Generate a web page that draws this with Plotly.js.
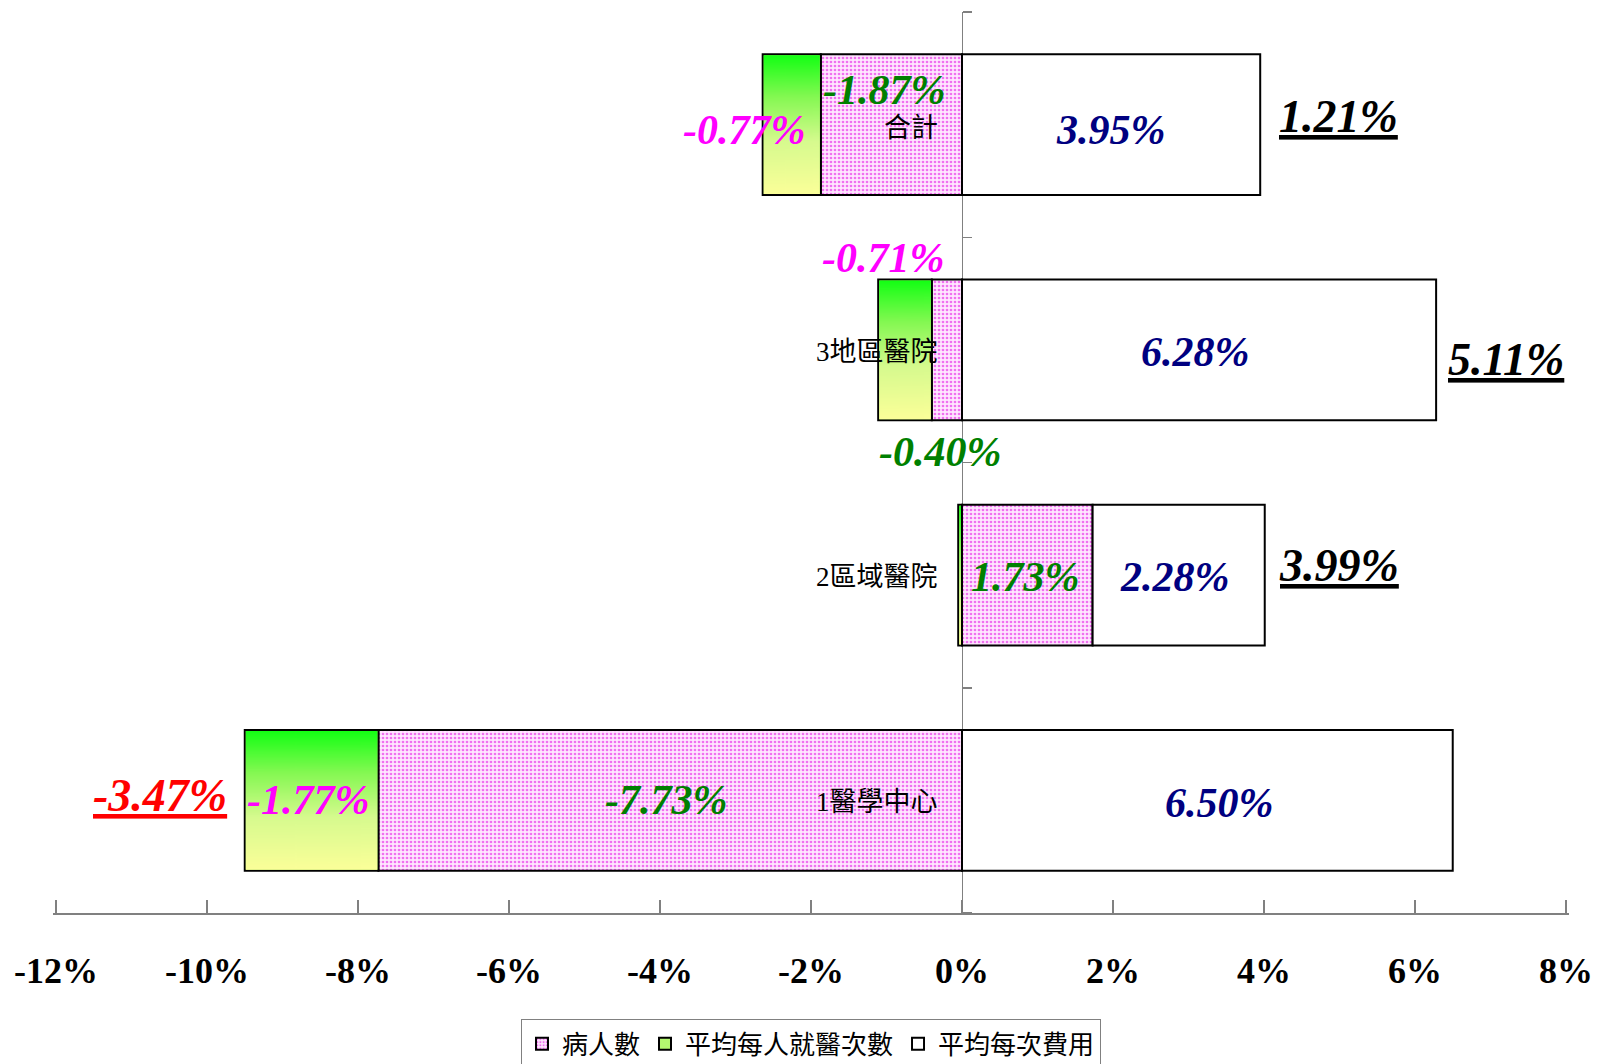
<!DOCTYPE html>
<html>
<head>
<meta charset="utf-8">
<script src="https://cdn.plot.ly/plotly-3.0.1.min.js"></script>
<style>html,body{margin:0;padding:0;background:#fff;}#chart{width:1602px;height:1064px;}</style>
</head>
<body>
<div id="chart"></div>
<script>
// ---- data (bottom to top) ----
const categories = ['1醫學中心', '2區域醫院', '3地區醫院', '合計'];
const patients   = [-7.73, 1.73, -0.40, -1.87];   // 病人數
const visits     = [-1.77, -0.05, -0.71, -0.77];  // 平均每人就醫次數
const costs      = [6.50, 2.28, 6.28, 3.95];      // 平均每次費用
const totals     = [-3.47, 3.99, 5.11, 1.21];
const seriesNames = ['病人數', '平均每人就醫次數', '平均每次費用'];
const xTickVals = [-12, -10, -8, -6, -4, -2, 0, 2, 4, 6, 8];
const xTickText = ['-12%', '-10%', '-8%', '-6%', '-4%', '-2%', '0%', '2%', '4%', '6%', '8%'];

const yIdx = categories.map((c, i) => i);
const BARW = 0.625;
const serif = "'Liberation Serif', 'Times New Roman', serif";
const cjk = "'Liberation Serif', 'Noto Sans CJK TC', sans-serif";

const XR = [-12.04, 8.04];
const ML = 53, MR = 33, MT = 12, MB = 151, W = 1602, H = 1064;

const traces = [
  {
    type: 'bar', orientation: 'h', name: seriesNames[0], x: patients, y: yIdx, width: BARW,
    marker: {color: '#ffd6ff', line: {color: '#000', width: 2},
             pattern: {shape: '.', fgcolor: '#f070f0', bgcolor: '#ffe6ff', size: 4, solidity: 0.35}},
    hoverinfo: 'skip'
  },
  {
    type: 'bar', orientation: 'h', name: seriesNames[1], x: visits, y: yIdx, width: BARW,
    marker: {color: '#b4f870', line: {color: '#000', width: 2}},
    hoverinfo: 'skip'
  },
  {
    type: 'bar', orientation: 'h', name: seriesNames[2], x: costs, y: yIdx, width: BARW,
    marker: {color: '#ffffff', line: {color: '#000', width: 2}},
    hoverinfo: 'skip'
  }
];

// gradient image for the visits bars
const cv = document.createElement('canvas');
cv.width = 4; cv.height = 200;
const ctx = cv.getContext('2d');
const g = ctx.createLinearGradient(0, 0, 0, 200);
g.addColorStop(0, '#14ff14');
g.addColorStop(0.3, '#84f852');
g.addColorStop(0.62, '#d6fa8e');
g.addColorStop(1, '#fbff99');
ctx.fillStyle = g; ctx.fillRect(0, 0, 4, 200);
const gradURL = cv.toDataURL('image/png');

const pxX = (XR[1] - XR[0]) / (W - ML - MR), pxY = 4 / (H - MT - MB);
const images = [];
const fmt = v => v.toFixed(2) + '%';
const annotations = [];

// label offsets (px)
const patOff  = [[-4, 0], [-2, -2], [-7, -102], [-7, 35]];
const visOff  = [[-4, 0], null, [-22, 92], [-48, -5]];
const costOff = [[12, -3], [-4, -2], [-4, -2], [0, -5]];
const totOff  = [[-16, 5], [12, 10], [10, -10], [17, 8]];
const catShift = [-2, -2, -2, -3];
const labFont = (c) => ({family: serif, size: 42, color: c, weight: 'bold', style: 'italic'});

yIdx.forEach(i => {
  const p = patients[i], v = visits[i], c = costs[i];
  let negBase = 0, posBase = 0;
  let pStart, pEnd;
  if (p < 0) { pStart = negBase; pEnd = negBase + p; negBase = pEnd; }
  else { pStart = posBase; pEnd = posBase + p; posBase = pEnd; }
  let vStart, vEnd;
  if (v < 0) { vStart = negBase; vEnd = negBase + v; negBase = vEnd; }
  else { vStart = posBase; vEnd = posBase + v; posBase = vEnd; }
  let cStart, cEnd;
  if (c < 0) { cStart = negBase; cEnd = negBase + c; negBase = cEnd; }
  else { cStart = posBase; cEnd = posBase + c; posBase = cEnd; }

  const vl = Math.min(vStart, vEnd), vw = Math.abs(v);
  images.push({
    source: gradURL, xref: 'x', yref: 'y',
    x: vl + pxX, y: i + BARW / 2 - pxY,
    sizex: Math.max(vw - 2 * pxX, 0.001), sizey: BARW - 2 * pxY,
    xanchor: 'left', yanchor: 'top', sizing: 'stretch', layer: 'above'
  });

  // category label (drawn beside the vertical axis, above the bars)
  annotations.push({x: 0, y: i, text: categories[i], showarrow: false, xanchor: 'right',
    xshift: -22, yshift: catShift[i], font: {family: cjk, size: 27, color: '#000'}});

  annotations.push({x: (pStart + pEnd) / 2, y: i, text: fmt(p), showarrow: false,
    xshift: patOff[i][0], yshift: patOff[i][1], font: labFont('#008000')});
  if (visOff[i]) annotations.push({x: (vStart + vEnd) / 2, y: i, text: fmt(v), showarrow: false,
    xshift: visOff[i][0], yshift: visOff[i][1], font: labFont('#ff00ff')});
  annotations.push({x: (cStart + cEnd) / 2, y: i, text: fmt(c), showarrow: false,
    xshift: costOff[i][0], yshift: costOff[i][1], font: labFont('#000080')});

  const t = totals[i];
  const tf = {family: serif, size: 46, color: t < 0 ? '#ff0000' : '#000000', weight: 'bold', style: 'italic'};
  annotations.push({
    x: t < 0 ? negBase : posBase, y: i, text: '<u>' + fmt(t) + '</u>', showarrow: false,
    xanchor: t < 0 ? 'right' : 'left', xshift: totOff[i][0], yshift: totOff[i][1], font: tf
  });
});

const layout = {
  width: W, height: H,
  margin: {l: ML, r: MR, t: MT, b: MB, pad: 0, autoexpand: false},
  paper_bgcolor: '#ffffff', plot_bgcolor: 'rgba(0,0,0,0)',
  barmode: 'relative',
  showlegend: true,
  xaxis: {
    range: XR, tickmode: 'array', tickvals: xTickVals, ticktext: xTickText,
    showgrid: false, zeroline: false, showline: true, linecolor: '#808080', linewidth: 1.5,
    ticks: 'inside', ticklen: 13, tickwidth: 1.5, tickcolor: '#808080',
    tickfont: {family: serif, size: 36, color: '#000', weight: 'bold'},
    ticklabelstandoff: 25, layer: 'below traces', fixedrange: true
  },
  yaxis: {
    range: [-0.5, 3.5], tickmode: 'array', tickvals: yIdx, ticktext: categories,
    showticklabels: false,
    anchor: 'free', position: (0 - XR[0]) / (XR[1] - XR[0]), side: 'left',
    showgrid: false, zeroline: false, showline: true, linecolor: '#808080', linewidth: 1.5,
    ticks: '',
    minor: {tickmode: 'linear', tick0: -0.5, dtick: 1, ticks: 'inside', ticklen: 9, tickwidth: 1.5, tickcolor: '#808080'},
    layer: 'below traces', fixedrange: true
  },
  legend: {
    orientation: 'h', x: 0.5, xanchor: 'center', y: -0.118, yanchor: 'top',
    bordercolor: '#808080', borderwidth: 1, bgcolor: '#ffffff',
    font: {family: "'Noto Sans CJK TC', sans-serif", size: 26, color: '#000'},
    itemwidth: 30, traceorder: 'normal'
  },
  images: images,
  annotations: annotations
};

Plotly.newPlot('chart', traces, layout, {staticPlot: true, displayModeBar: false});
</script>
</body>
</html>
